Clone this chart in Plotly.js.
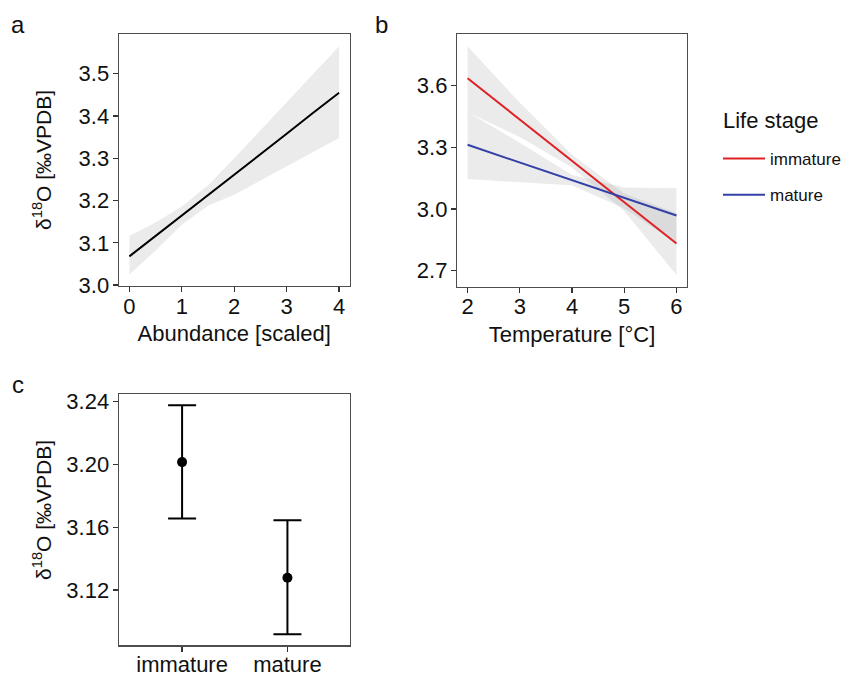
<!DOCTYPE html>
<html>
<head>
<meta charset="utf-8">
<script src="https://cdn.plot.ly/plotly-3.0.1.min.js"></script>
<style>html,body{margin:0;padding:0;background:#fff;}#chart{width:846px;height:674px;}</style>
</head>
<body>
<div id="chart"></div>
<script>
// ---- Panel a: abundance ----
var abundX     = [0, 0.5, 1, 1.5, 2, 2.5, 3, 3.5, 4];
var abundFit   = [3.068, 3.116, 3.165, 3.213, 3.262, 3.310, 3.358, 3.407, 3.455];
var abundUpper = [3.116, 3.148, 3.186, 3.236, 3.300, 3.366, 3.432, 3.498, 3.565];
var abundLower = [3.025, 3.082, 3.143, 3.188, 3.214, 3.247, 3.281, 3.314, 3.348];

// ---- Panel b: temperature by life stage ----
var tempX          = [2, 3, 4, 5, 6];
var immatureFit    = [3.636, 3.435, 3.234, 3.033, 2.832];
var immatureUpper  = [3.790, 3.517, 3.264, 3.075, 2.980];
var immatureLower  = [3.470, 3.350, 3.202, 2.990, 2.679];
var matureFit      = [3.312, 3.226, 3.140, 3.054, 2.968];
var matureUpper    = [3.472, 3.322, 3.165, 3.105, 3.101];
var matureLower    = [3.146, 3.130, 3.115, 3.002, 2.835];

// ---- Panel c: life stage means ----
var stages    = ['immature', 'mature'];
var stageMean = [3.2015, 3.1278];
var stageLow  = [3.1655, 3.0918];
var stageHigh = [3.2377, 3.1645];

var FONT = 'Arial, "Liberation Sans", Helvetica, sans-serif';
var RIB = 'rgba(153,153,153,0.2)';
var RED = '#de2024';
var BLUE = '#3340a8';
var TXT = '#111';

function ribbon(x, lo, hi, xa, ya) {
  var xs = x.concat(x.slice().reverse());
  var ys = hi.concat(lo.slice().reverse());
  return {x: xs, y: ys, xaxis: xa, yaxis: ya, type: 'scatter', mode: 'lines',
          fill: 'toself', fillcolor: RIB, line: {width: 0}, showlegend: false, hoverinfo: 'skip'};
}

var traces = [
  ribbon(abundX, abundLower, abundUpper, 'x', 'y'),
  {x: abundX, y: abundFit, xaxis: 'x', yaxis: 'y', type: 'scatter', mode: 'lines',
   line: {color: '#000', width: 2}, showlegend: false},
  ribbon(tempX, immatureLower, immatureUpper, 'x2', 'y2'),
  ribbon(tempX, matureLower, matureUpper, 'x2', 'y2'),
  {x: tempX, y: immatureFit, xaxis: 'x2', yaxis: 'y2', type: 'scatter', mode: 'lines',
   line: {color: RED, width: 2}, name: 'immature', legendgroup: 'g1'},
  {x: tempX, y: matureFit, xaxis: 'x2', yaxis: 'y2', type: 'scatter', mode: 'lines',
   line: {color: BLUE, width: 2}, name: 'mature', legendgroup: 'g2'},
  {x: stages, y: stageMean, xaxis: 'x3', yaxis: 'y3', type: 'scatter', mode: 'markers',
   marker: {color: '#000', size: 10},
   error_y: {type: 'data', symmetric: false,
             array: stageHigh.map(function (v, i) { return v - stageMean[i]; }),
             arrayminus: stageMean.map(function (v, i) { return v - stageLow[i]; }),
             color: '#000', thickness: 2, width: 14},
   showlegend: false}
];

function ax(extra) {
  var base = {showline: true, mirror: true, linecolor: '#4d4d4d', linewidth: 1.3,
              ticks: 'outside', ticklen: 5, tickwidth: 1.3, tickcolor: '#333',
              showgrid: false, zeroline: false, fixedrange: true,
              tickfont: {family: FONT, size: 22, color: TXT}};
  for (var k in extra) base[k] = extra[k];
  return base;
}

var xTitleFont = {family: FONT, size: 22, color: TXT};
var yTitleText = 'δ<sup>18</sup>O [‰VPDB]';

function label(text, px, py, size, angle) {
  return {text: text, x: px / 846, y: 1 - py / 674, xref: 'paper', yref: 'paper', showarrow: false,
          xanchor: 'center', yanchor: 'middle', textangle: angle || 0,
          font: {family: FONT, size: size, color: TXT}};
}

var layout = {
  width: 846, height: 674,
  margin: {l: 0, r: 0, t: 0, b: 0},
  paper_bgcolor: '#fff', plot_bgcolor: '#fff',
  font: {family: FONT, color: TXT},
  xaxis:  ax({domain: [0.1407, 0.4137], range: [-0.2, 4.2], dtick: 1, tick0: 0, anchor: 'y', ticklabelstandoff: -5,
              title: {text: 'Abundance [scaled]', font: xTitleFont, standoff: 8}}),
  yaxis:  ax({domain: [0.5757, 0.9496], range: [2.998, 3.594], dtick: 0.1, tick0: 3.0, tickformat: '.1f', anchor: 'x',
              ticklabelstandoff: -1}),
  xaxis2: ax({domain: [0.5410, 0.8129], range: [1.8, 6.2], dtick: 1, tick0: 2, anchor: 'y2', ticklabelstandoff: -5,
              title: {text: 'Temperature [°C]', font: xTitleFont, standoff: 8}}),
  yaxis2: ax({domain: [0.5746, 0.9496], range: [2.622, 3.851], dtick: 0.3, tick0: 2.7, tickformat: '.1f', anchor: 'x2',
              ticklabelstandoff: -1}),
  xaxis3: ax({domain: [0.1407, 0.4137], range: [-0.6, 1.59], type: 'category', anchor: 'y3', ticklabelstandoff: -6}),
  yaxis3: ax({domain: [0.0426, 0.4150], range: [3.0848, 3.2447], dtick: 0.04, tick0: 3.12, tickformat: '.2f', anchor: 'x3',
              ticklabelstandoff: -1}),
  showlegend: true,
  legend: {x: 0.8495, y: 1 - 141 / 674, xanchor: 'left', yanchor: 'top',
           font: {family: FONT, size: 17, color: TXT},
           traceorder: 'grouped', tracegroupgap: 11, itemwidth: 42, bgcolor: 'rgba(0,0,0,0)'},
  annotations: [
    {text: 'Life stage', x: 722 / 846, y: 1 - 120 / 674, xref: 'paper', yref: 'paper', showarrow: false,
     xanchor: 'left', yanchor: 'middle', font: {family: FONT, size: 22, color: TXT}},
    label(yTitleText, 42, 160, 21, -90),
    label(yTitleText, 42, 510, 21, -90),
    label('a', 18.5, 24, 24),
    label('b', 381.5, 24, 24),
    label('c', 18.5, 384, 24)
  ]
};

Plotly.newPlot('chart', traces, layout, {staticPlot: true, displayModeBar: false});
</script>
</body>
</html>
